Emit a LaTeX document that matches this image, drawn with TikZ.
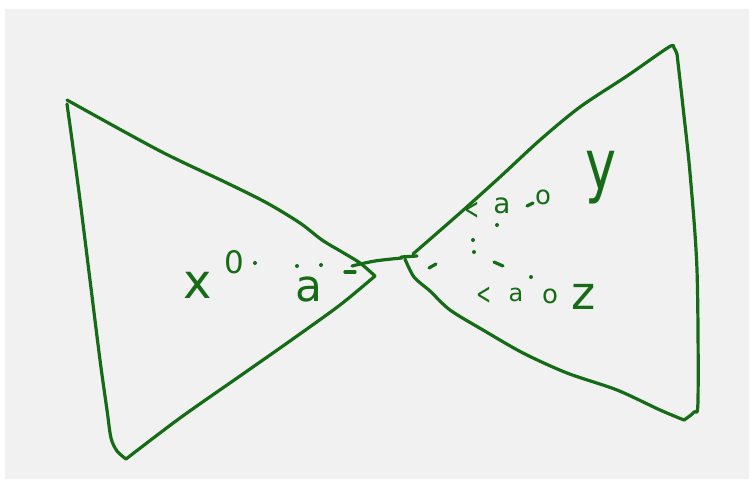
\documentclass[tikz,border=0pt]{standalone}
\usepackage{fontspec}
\setmainfont{DejaVu Sans}
\definecolor{ink}{RGB}{22,108,22}
\definecolor{paper}{RGB}{241,241,241}
\tikzset{
  pen/.style={draw=ink, line width=3.2pt, line cap=round, line join=round},
  hand/.style={text=ink, inner sep=0pt},
  fs/.style={font=\fontsize{#1}{#1}\selectfont},
  dotmark/.style={fill=ink, circle, inner sep=0pt, minimum size=4pt}
}
\begin{document}
\begin{tikzpicture}[x=1pt,y=-1pt]
\useasboundingbox (0,0) rectangle (753,482);
\fill[white] (0,0) rectangle (753,482);
\fill[paper] (5,9) rectangle (749,479);
% left triangle
\draw[pen] plot[smooth, tension=0.5] coordinates {(67,100) (160,151) (227,183) (267,203) (300,223) (322,240) (342,252) (360,263) (375,276)};
\draw[pen] plot[smooth, tension=0.5] coordinates {(375,276) (340,305) (290,341) (240,376) (180,418) (126,459)};
\draw[pen] plot[smooth, tension=0.5] coordinates {(67,104) (72,140) (80,200) (90,280) (100,360) (107,410) (111,438) (117,451) (126,459)};
% bridge
\draw[pen] plot[smooth, tension=0.6] coordinates {(352,266) (375,261) (402,258)};
\draw[pen] (345,272) -- (355,272);
% right triangle
\draw[pen] plot[smooth, tension=0.5] coordinates {(413,254) (460,213) (500,177) (540,140) (580,107) (627,76) (669,47) (674,48) (677,54)};
\draw[pen] plot[smooth, tension=0.5] coordinates {(677,54) (683,107) (690,173) (697,270) (698,400) (694,412) (684,420)};
\draw[pen] plot[smooth, tension=0.5] coordinates {(684,420) (660,410) (617,390) (567,373) (523,353) (483,330) (450,310) (430,291) (414,277) (405,259)};
\draw[pen] (401,257) -- (417,256);
% left labels
\node[hand, fs=48] (x) at (198,285) {x};
\node[hand, fs=31] (o1) at (234,262) {0};
\node[dotmark] (d1) at (255,263) {};
\node[hand, fs=44] (a1) at (309,289) {a};
\node[dotmark] (d2) at (297,266) {};
\node[dotmark] (d3) at (321,265) {};
% right labels
\node[hand, fs=30, xscale=0.6] (lt1) at (472,211) {<};
\node[hand, fs=28] (a2) at (502,206) {a};
\draw[pen] (527,206) -- (533,203);
\node[hand, fs=26] (o2) at (543,197) {o};
\node[hand, fs=70, xscale=0.75] (y) at (601,178) {y};
\node[dotmark] (d4) at (497,225) {};
\node[dotmark] (d5) at (473,240) {};
\node[dotmark] (d6) at (474,252) {};
\draw[pen] (494,262) -- (503,266);
\draw[pen] (429,268) -- (436,264);
\node[dotmark] (d7) at (531,277) {};
\node[hand, fs=30, xscale=0.6] (lt2) at (484,296) {<};
\node[hand, fs=24] (a3) at (516,295) {a};
\node[hand, fs=26] (o3) at (550,296) {o};
\node[hand, fs=46] (z) at (584,297) {z};
\end{tikzpicture}
\end{document}
